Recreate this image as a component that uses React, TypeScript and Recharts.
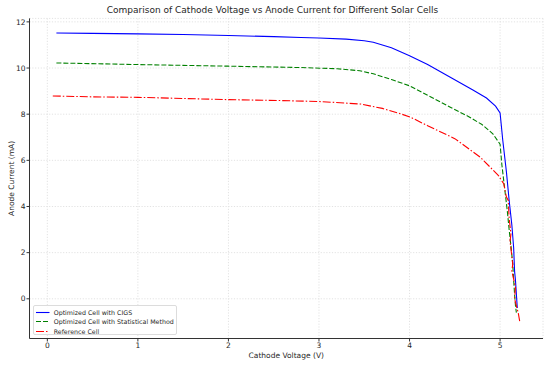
import React from "react";
import { LineChart, Line, XAxis, YAxis, CartesianGrid } from "recharts";

const title = "Comparison of Cathode Voltage vs Anode Current for Different Solar Cells";
const xLabel = "Cathode Voltage (V)";
const yLabel = "Anode Current (mA)";
const xTicks = [0, 1, 2, 3, 4, 5];
const yTicks = [0, 2, 4, 6, 8, 10, 12];

const seriesNames = [
  "Optimized Cell with CIGS",
  "Optimized Cell with Statistical Method",
  "Reference Cell",
];

const cigsX = [0.1, 0.5, 1.0, 1.5, 2.0, 2.5, 2.8, 3.0, 3.3, 3.5, 3.6, 3.8, 4.0, 4.2, 4.45, 4.7, 4.85, 4.95, 5.0, 5.03, 5.07, 5.1, 5.13, 5.15, 5.16, 5.17, 5.18, 5.19];
const cigsY = [11.52, 11.5, 11.48, 11.45, 11.41, 11.36, 11.32, 11.3, 11.25, 11.18, 11.12, 10.88, 10.53, 10.15, 9.6, 9.05, 8.7, 8.35, 8.05, 6.86, 5.5, 4.27, 3.2, 2.2, 1.2, 0.8, 0.2, -0.4];

const statX = [0.1, 1.0, 2.0, 2.8, 3.2, 3.45, 3.6, 3.8, 4.0, 4.2, 4.45, 4.65, 4.8, 4.92, 5.0, 5.02, 5.05, 5.08, 5.1, 5.12, 5.14, 5.15, 5.16, 5.17, 5.18];
const statY = [10.22, 10.15, 10.08, 10.02, 9.97, 9.88, 9.75, 9.5, 9.23, 8.82, 8.3, 7.9, 7.55, 7.15, 6.7, 5.8, 4.8, 3.8, 3.0, 2.3, 1.5, 0.8, 0.2, -0.3, -0.6];

const refX = [0.06, 0.5, 1.0, 1.5, 2.0, 2.57, 3.0, 3.46, 3.7, 3.9, 4.01, 4.2, 4.5, 4.78, 4.98, 5.04, 5.07, 5.09, 5.1, 5.12, 5.11, 5.14, 5.13, 5.17, 5.16, 5.2, 5.22];
const refY = [8.79, 8.75, 8.73, 8.68, 8.63, 8.59, 8.55, 8.44, 8.25, 8.02, 7.87, 7.5, 6.94, 6.14, 5.35, 4.99, 4.41, 4.27, 3.5, 2.8, 2.5, 1.5, 1.2, 0.5, 0.0, -0.6, -1.05];

const toPoints = (xs: number[], ys: number[]) => xs.map((x, i) => ({ x, y: ys[i] }));
const cigs = toPoints(cigsX, cigsY);
const stat = toPoints(statX, statY);
const ref = toPoints(refX, refY);

const colors = ["#0000ff", "#008000", "#ff0000"];
const dashes = ["", "5 2", "8 2 1.5 2"];

const font = "'DejaVu Sans', sans-serif";

export default function App() {
  return (
    <div style={{ position: "absolute", left: 0, top: 0, width: 550, height: 366, background: "#fff", fontFamily: font }}>
      <LineChart width={550} height={366} margin={{ top: 18.4, right: 7, bottom: 0, left: 0 }} style={{ fontFamily: font }}>
        <CartesianGrid stroke="#e2e2e2" strokeDasharray="1.2 1.6" />
        <XAxis
          type="number"
          dataKey="x"
          domain={[-0.197, 5.474]}
          ticks={xTicks}
          allowDataOverflow
          height={27.5}
          tickSize={3}
          tickMargin={1}
          axisLine={{ stroke: "#333" }}
          tickLine={{ stroke: "#333" }}
          tick={{ fontSize: 7.5, fill: "#262626" }}
          label={{ value: xLabel, position: "insideBottom", offset: 8.3, style: { fontSize: 7.5, fill: "#262626" } }}
        />
        <YAxis
          type="number"
          dataKey="y"
          domain={[-1.72, 12.15]}
          ticks={yTicks}
          allowDataOverflow
          width={29.5}
          tickSize={3}
          tickMargin={1}
          axisLine={{ stroke: "#333" }}
          tickLine={{ stroke: "#333" }}
          tick={{ fontSize: 7.5, fill: "#262626" }}
          label={{ value: yLabel, angle: -90, position: "insideLeft", offset: 11, style: { fontSize: 7.5, fill: "#262626", textAnchor: "middle" } }}
        />
        <Line data={cigs} dataKey="y" name={seriesNames[0]} type="linear" stroke={colors[0]} strokeWidth={1.1} dot={false} isAnimationActive={false} />
        <Line data={stat} dataKey="y" name={seriesNames[1]} type="linear" stroke={colors[1]} strokeWidth={1.1} strokeDasharray={dashes[1]} dot={false} isAnimationActive={false} />
        <Line data={ref} dataKey="y" name={seriesNames[2]} type="linear" stroke={colors[2]} strokeWidth={1.1} strokeDasharray={dashes[2]} dot={false} isAnimationActive={false} />
      </LineChart>
      <div style={{ position: "absolute", left: 0, width: 545, top: 6, textAlign: "center", fontSize: 9, lineHeight: "9px", color: "#262626", whiteSpace: "nowrap" }}>
        {title}
      </div>
      <div style={{ position: "absolute", left: 32.7, top: 305, width: 142, height: 28, border: "1px solid #dcdcdc", borderRadius: 2, background: "rgba(255,255,255,0.85)" }}>
        {seriesNames.map((n, i) => (
          <div key={n} style={{ position: "absolute", left: 0, top: 1.5 + i * 9.7, height: 9, display: "flex", alignItems: "center" }}>
            <svg width={18} height={9} style={{ display: "block" }}>
              <line x1={2} x2={15.5} y1={4.5} y2={4.5} stroke={colors[i]} strokeWidth={1.1} strokeDasharray={dashes[i] || undefined} />
            </svg>
            <span style={{ fontSize: 6.3, lineHeight: "9px", color: "#262626", marginLeft: 2, whiteSpace: "nowrap" }}>{n}</span>
          </div>
        ))}
      </div>
    </div>
  );
}
